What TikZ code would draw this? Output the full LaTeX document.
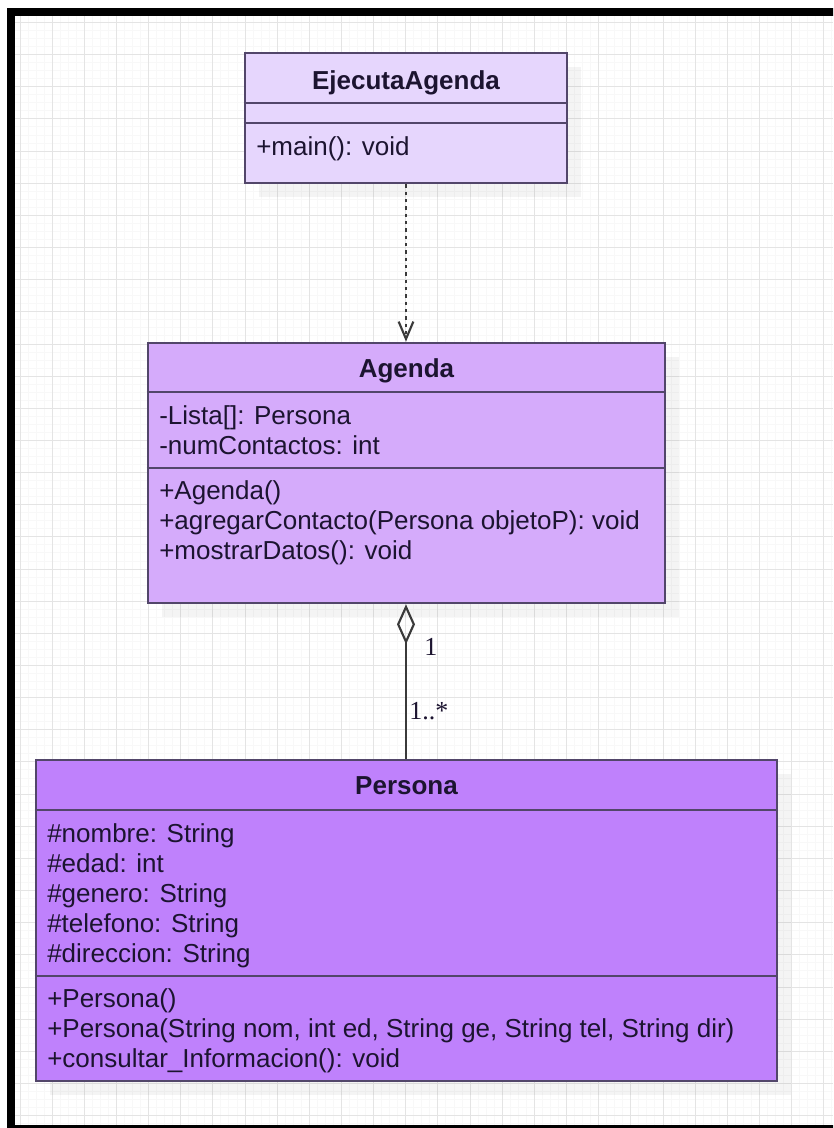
\documentclass[tikz,border=0pt]{standalone}
\usepackage{fontspec}
\setmainfont{Liberation Sans}
\newfontfamily\multfont{Liberation Serif}
\usetikzlibrary{arrows.meta,fit,shadows}

\definecolor{gridmajor}{HTML}{E4E4E4}
\definecolor{gridminor}{HTML}{F8F8F8}
\definecolor{boxline}{HTML}{52466A}
\definecolor{txt}{HTML}{1C1430}
\definecolor{fillmain}{HTML}{E6D6FD}
\definecolor{fillagenda}{HTML}{D5ABFB}
\definecolor{fillpersona}{HTML}{BF81FC}
\definecolor{conn}{HTML}{3A3A3A}

\begin{document}
\begin{tikzpicture}[x=0.75pt,y=-0.75pt,
  classbox/.style={draw=boxline, line width=2pt, inner sep=0pt,
    drop shadow={shadow xshift=10.5pt, shadow yshift=-10.5pt, opacity=0.045, fill=black}},
  sepline/.style={draw=boxline, line width=2pt},
  member/.style={anchor=base west, inner sep=0pt, text=txt,
    font=\fontsize{19.5pt}{22.5pt}\selectfont},
  classtitle/.style={anchor=base, inner sep=0pt, text=txt,
    font=\fontsize{19.5pt}{22.5pt}\selectfont\bfseries},
  mult/.style={anchor=base west, inner sep=0pt, text=txt,
    font=\multfont\fontsize{19.5pt}{22.5pt}\selectfont},
  depends/.style={draw=conn, line width=1.6pt, dash pattern=on 2.6pt off 2.9pt,
    -{Straight Barb[length=13pt,width=11pt]}},
  aggr/.style={draw=conn, line width=1.6pt, {Diamond[open,length=30pt,width=13.5pt]}-},
  minorline/.style={draw=gridminor, line width=0.75pt},
  majorline/.style={draw=gridmajor, line width=0.75pt},
  frame/.style={draw=black, line width=6pt, line join=miter},
]
\useasboundingbox (0,0) rectangle (833,1128);
\clip (0,0) rectangle (833,1128);
\fill[white] (0,0) rectangle (833,1128);

% background grid
\foreach \k in {0,...,101}
  \draw[minorline] ({20+\k*8.0375},16) -- ({20+\k*8.0375},1128);
\foreach \k in {0,...,137}
  \draw[minorline] (15,{22.5+\k*8.0375}) -- (833,{22.5+\k*8.0375});
\foreach \k in {0,...,25}
  \draw[majorline] ({20+\k*32.15},16) -- ({20+\k*32.15},1128);
\foreach \k in {0,...,34}
  \draw[majorline] (15,{22.5+\k*32.15}) -- (833,{22.5+\k*32.15});

% outer frame
\draw[frame] (845,12) -- (11,12) -- (11,1128.5) -- (845,1128.5);

% class EjecutaAgenda
\node[classbox, fill=fillmain, fit={(245,53) (567,183)}] (ej) {};
\draw[sepline] (ej.west |- 0,103) -- (ej.east |- 0,103);
\draw[sepline] (ej.west |- 0,123) -- (ej.east |- 0,123);
\node[classtitle] (ejt) at (406,89) {EjecutaAgenda};
\node[member] (ejm1) at (256,155) {+main(): void};

% class Agenda
\node[classbox, fill=fillagenda, fit={(148,343) (665,603)}] (ag) {};
\draw[sepline] (ag.west |- 0,392) -- (ag.east |- 0,392);
\draw[sepline] (ag.west |- 0,468) -- (ag.east |- 0,468);
\node[classtitle] (agt) at (406.5,377) {Agenda};
\node[member] (aga1) at (159,424) {-Lista[]: Persona};
\node[member] (aga2) at (159,454) {-numContactos: int};
\node[member] (agm1) at (159,499) {+Agenda()};
\node[member] (agm2) at (159,529) {+agregarContacto(Persona objetoP): void};
\node[member] (agm3) at (159,559) {+mostrarDatos(): void};

% class Persona
\node[classbox, fill=fillpersona, fit={(36,760) (777,1081)}] (pe) {};
\draw[sepline] (pe.west |- 0,810) -- (pe.east |- 0,810);
\draw[sepline] (pe.west |- 0,976) -- (pe.east |- 0,976);
\node[classtitle] (pet) at (406.5,794) {Persona};
\node[member] (pea1) at (47,842) {\#nombre: String};
\node[member] (pea2) at (47,872) {\#edad: int};
\node[member] (pea3) at (47,902) {\#genero: String};
\node[member] (pea4) at (47,932) {\#telefono: String};
\node[member] (pea5) at (47,962) {\#direccion: String};
\node[member] (pem1) at (47,1007) {+Persona()};
\node[member] (pem2) at (47,1037) {+Persona(String nom, int ed, String ge, String tel, String dir)};
\node[member] (pem3) at (47,1067) {+consultar\_Informacion(): void};

% relations
\draw[depends] (ej.south) -- (ej.south |- ag.north);
\draw[aggr] (ej.south |- ag.south) -- (ej.south |- pe.north);
\node[mult] (m1) at (424,655) {1};
\node[mult] (m2) at (409,719) {1..*};
\end{tikzpicture}
\end{document}
